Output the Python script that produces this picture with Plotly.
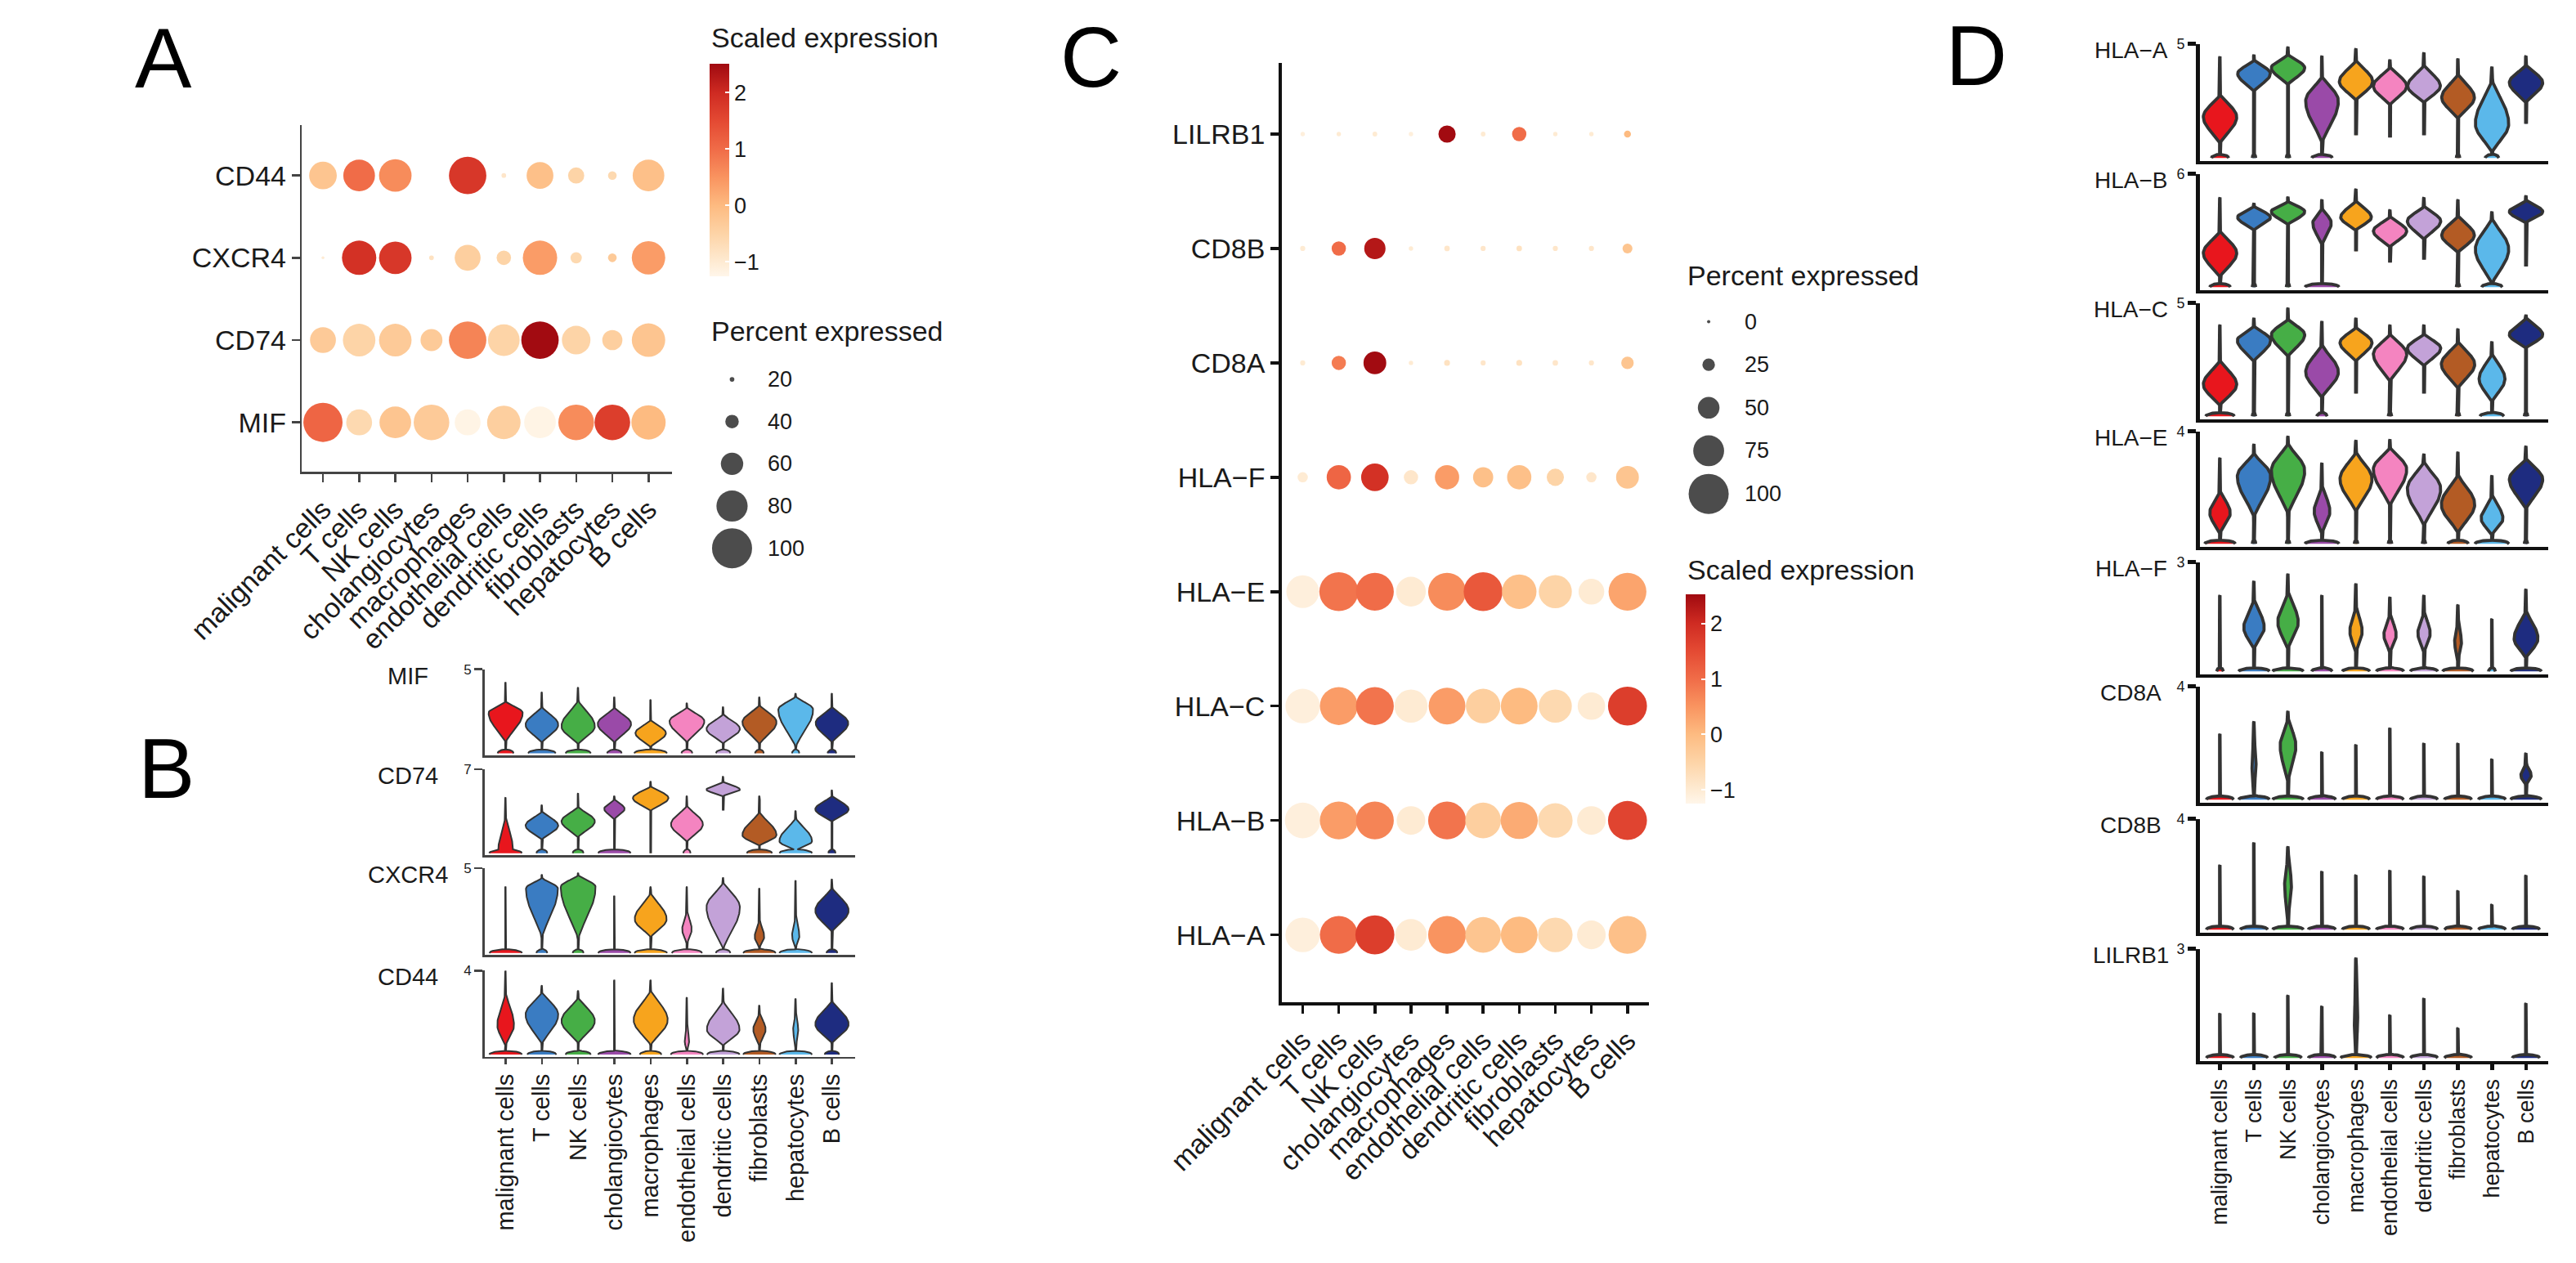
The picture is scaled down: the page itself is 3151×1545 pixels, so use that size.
import numpy as np
import plotly.graph_objects as go

W, H = 3151, 1545
FONT = "Liberation Sans, Arial, Helvetica, sans-serif"
TXT = "#1a1a1a"

# ---------------- data ----------------
CELLS = ["malignant cells", "T cells", "NK cells", "cholangiocytes", "macrophages",
         "endothelial cells", "dendritic cells", "fibroblasts", "hepatocytes", "B cells"]
CELL_COLORS = ["#E8161D", "#3A7CC2", "#46AE46", "#9A4AA8", "#F7A41D",
               "#F484C0", "#C3A2D8", "#B35B24", "#5BB8EA", "#1E2C80"]

# Panel A (dot plot) rows top -> bottom
A_GENES = ["CD44", "CXCR4", "CD74", "MIF"]
A_PCT_CD44 = [72, 81, 83, 10, 94, 20, 70, 46, 29, 81]
A_PCT_CXCR4 = [16, 87, 83, 20, 68, 42, 87, 35, 29, 85]
A_PCT_CD74 = [68, 83, 83, 59, 94, 81, 94, 74, 55, 85]
A_PCT_MIF = [98, 68, 81, 90, 68, 85, 81, 90, 90, 87]
A_EXP_CD44 = [-0.2, 1.0, 0.6, -1.0, 1.8, -0.9, -0.1, -0.5, -0.6, -0.1]
A_EXP_CXCR4 = [-1.0, 1.9, 1.8, -0.8, -0.4, -0.5, 0.4, -0.6, -0.3, 0.4]
A_EXP_CD74 = [-0.3, -0.5, -0.3, -0.3, 0.7, -0.5, 2.5, -0.5, -0.4, -0.2]
A_EXP_MIF = [1.1, -0.6, -0.2, -0.3, -1.2, -0.4, -1.2, 0.6, 1.7, 0.0]
A_PCT_BREAKS = [20, 40, 60, 80, 100]

# Panel C (dot plot) rows top -> bottom
C_GENES = ["LILRB1", "CD8B", "CD8A", "HLA−F", "HLA−E", "HLA−C", "HLA−B", "HLA−A"]
C_PCT_LILRB1 = [3, 3, 4, 3, 38, 4, 30, 3, 3, 10]
C_PCT_CD8B = [5, 30, 49, 3, 6, 5, 6, 5, 5, 18]
C_PCT_CD8A = [5, 30, 53, 3, 7, 5, 7, 6, 5, 25]
C_PCT_HLAF = [19, 57, 66, 30, 57, 46, 57, 38, 19, 53]
C_PCT_HLAE = [80, 97, 94, 72, 94, 97, 85, 81, 61, 94]
C_PCT_HLAC = [85, 94, 94, 81, 91, 85, 91, 81, 66, 97]
C_PCT_HLAB = [88, 94, 94, 69, 94, 88, 92, 85, 69, 97]
C_PCT_HLAA = [85, 94, 97, 77, 94, 88, 91, 85, 69, 94]
C_EXP_LILRB1 = [-1.1, -1.0, -1.0, -1.1, 2.5, -1.0, 1.0, -1.0, -1.0, 0.0]
C_EXP_CD8B = [-1.0, 1.0, 2.3, -1.0, -0.9, -0.9, -0.8, -0.9, -0.9, -0.2]
C_EXP_CD8A = [-1.0, 0.8, 2.5, -1.0, -0.8, -0.9, -0.8, -0.9, -0.9, -0.2]
C_EXP_HLAF = [-1.0, 1.1, 1.9, -0.9, 0.4, -0.1, -0.1, -0.5, -0.9, -0.2]
C_EXP_HLAE = [-1.1, 0.9, 1.0, -1.0, 0.6, 1.3, -0.1, -0.5, -1.0, 0.3]
C_EXP_HLAC = [-1.1, 0.4, 0.9, -1.0, 0.4, -0.4, 0.0, -0.6, -1.0, 1.7]
C_EXP_HLAB = [-1.1, 0.4, 0.7, -1.0, 0.9, -0.4, 0.2, -0.6, -1.0, 1.6]
C_EXP_HLAA = [-1.1, 1.0, 1.7, -1.0, 0.5, -0.2, 0.0, -0.6, -1.0, -0.1]
C_PCT_BREAKS = [0, 25, 50, 75, 100]

EXP_TICKS = [-1, 0, 1, 2]
EXP_TICK_TEXT = ["−1", "0", "1", "2"]
EXP_MIN, EXP_MAX = -1.25, 2.52

# Violin descriptors per cell type: [bottom, bulb_low, widest, half_width, bulb_high, top, zero_blob]
B_GENES = ["MIF", "CD74", "CXCR4", "CD44"]
B_YMAX = [5, 7, 5, 4]
VLN_B_MIF = [
    [0, 0.6, 2.4, 0.47, 3.1, 4.23, 0.22], [0, 0.6, 1.7, 0.45, 2.8, 3.65, 0.38],
    [0, 0.5, 1.6, 0.46, 3.2, 3.93, 0.35], [0, 0.6, 1.75, 0.46, 2.75, 3.35, 0.2],
    [0, 0.35, 1.2, 0.42, 2.0, 3.2, 0.45], [0, 0.6, 1.9, 0.48, 2.75, 3.0, 0.15],
    [0, 0.55, 1.45, 0.46, 2.35, 2.77, 0.2], [0, 0.5, 1.85, 0.47, 2.9, 3.35, 0.12],
    [0, 0.3, 2.6, 0.48, 3.4, 3.57, 0.1], [0, 0.6, 1.8, 0.45, 2.8, 3.57, 0.12]]
VLN_B_CD74 = [
    [0, 0.0, 0.3, 0.2, 3.2, 4.65, 0.45], [0, 1.1, 2.3, 0.45, 3.5, 4.03, 0.15],
    [0, 1.3, 2.65, 0.46, 3.9, 5.0, 0.15], [0, 2.8, 3.7, 0.28, 4.5, 4.78, 0.45],
    [0, 3.5, 4.6, 0.49, 5.6, 6.0, 0.0], [0, 0.9, 2.4, 0.44, 4.0, 4.78, 0.1],
    [3.55, 4.75, 5.3, 0.46, 5.95, 6.4, 0.0], [0, 0.6, 1.5, 0.47, 3.5, 4.78, 0.35],
    [0, 0.2, 1.0, 0.45, 3.0, 3.54, 0.45], [0, 2.6, 3.66, 0.46, 4.8, 5.27, 0.1]]
VLN_B_CXCR4 = [
    [0, 0, 0, 0, 0, 3.92, 0.45], [0, 0.8, 3.8, 0.44, 4.45, 4.64, 0.15],
    [0, 0.7, 3.9, 0.48, 4.6, 4.73, 0.15], [0, 0, 0, 0, 0, 3.38, 0.45],
    [0, 0.9, 2.0, 0.44, 3.6, 3.92, 0.45], [0, 0.5, 1.4, 0.13, 2.5, 3.92, 0.42],
    [0, 0.15, 2.7, 0.46, 4.2, 4.46, 0.2], [0, 0.3, 0.95, 0.13, 2.0, 3.83, 0.45],
    [0, 0.3, 1.0, 0.1, 2.2, 4.28, 0.45], [0, 1.2, 2.5, 0.46, 3.9, 4.37, 0.15]]
VLN_B_CD44 = [
    [0, 0.4, 1.4, 0.23, 3.0, 4.0, 0.45], [0, 0.45, 1.9, 0.45, 3.0, 3.3, 0.4],
    [0, 0.5, 1.6, 0.46, 2.75, 3.05, 0.35], [0, 0, 0, 0, 0, 3.56, 0.45],
    [0, 0.4, 1.65, 0.47, 3.1, 3.56, 0.3], [0, 0.2, 0.6, 0.06, 1.5, 2.73, 0.45],
    [0, 0.4, 1.2, 0.45, 2.6, 3.17, 0.45], [0, 0.4, 1.2, 0.17, 2.0, 2.35, 0.45],
    [0, 0.3, 1.2, 0.07, 2.0, 2.67, 0.45], [0, 0.5, 1.45, 0.46, 2.6, 3.43, 0.2]]

D_GENES = ["HLA−A", "HLA−B", "HLA−C", "HLA−E", "HLA−F", "CD8A", "CD8B", "LILRB1"]
D_YMAX = [5, 6, 5, 4, 3, 4, 4, 3]
VLN_D_HLAA = [
    [0, 0.6, 1.8, 0.49, 2.8, 4.45, 0.25], [0, 2.9, 3.7, 0.48, 4.3, 4.53, 0.05],
    [0, 3.2, 3.95, 0.49, 4.55, 4.88, 0.05], [0, 0.6, 2.5, 0.48, 3.6, 4.48, 0.3],
    [1.0, 2.5, 3.35, 0.49, 4.3, 4.8, 0], [0.9, 2.3, 3.15, 0.49, 4.0, 4.31, 0],
    [1.0, 2.4, 3.15, 0.48, 4.1, 4.62, 0], [0, 1.7, 2.65, 0.48, 3.7, 4.36, 0.05],
    [0, 0.2, 1.5, 0.49, 3.5, 4.0, 0.2], [1.5, 2.4, 3.3, 0.49, 4.1, 4.48, 0]]
VLN_D_HLAB = [
    [0, 0.5, 1.8, 0.49, 3.0, 4.75, 0.3], [0, 3.0, 3.7, 0.48, 4.3, 4.45, 0.05],
    [0, 3.3, 4.0, 0.49, 4.55, 4.79, 0.05], [0, 2.2, 3.4, 0.27, 4.2, 4.64, 0.5],
    [1.9, 3.0, 3.7, 0.45, 4.6, 5.2, 0], [1.3, 2.1, 2.97, 0.49, 3.75, 4.1, 0],
    [1.45, 2.5, 3.5, 0.49, 4.3, 4.75, 0], [0, 1.8, 2.75, 0.48, 3.8, 4.64, 0.05],
    [0, 0.1, 2.0, 0.49, 3.7, 4.0, 0.3], [1.1, 3.4, 4.0, 0.49, 4.6, 4.85, 0]]
VLN_D_HLAC = [
    [0, 0.45, 1.4, 0.49, 2.5, 4.04, 0.42], [0, 2.4, 3.35, 0.49, 4.0, 4.34, 0.05],
    [0, 2.6, 3.6, 0.49, 4.3, 4.79, 0.05], [0, 0.8, 1.95, 0.48, 3.2, 4.2, 0.15],
    [1.0, 2.4, 3.25, 0.47, 3.95, 4.34, 0], [0, 1.5, 2.75, 0.49, 3.65, 4.04, 0.05],
    [1.0, 2.2, 3.0, 0.49, 3.65, 4.04, 0], [0, 1.2, 2.3, 0.49, 3.3, 3.87, 0.05],
    [0, 0.6, 1.65, 0.38, 2.8, 3.3, 0.35], [0, 3.0, 3.6, 0.49, 4.35, 4.48, 0.05]]
VLN_D_HLAE = [
    [0, 0.35, 1.1, 0.3, 1.9, 3.06, 0.45], [0, 0.9, 2.4, 0.49, 3.25, 3.55, 0.05],
    [0, 1.0, 2.6, 0.49, 3.6, 3.83, 0.05], [0, 0.35, 1.15, 0.23, 2.1, 2.88, 0.5],
    [0, 1.1, 2.3, 0.47, 3.3, 3.69, 0.05], [0, 1.3, 2.65, 0.49, 3.45, 3.72, 0.05],
    [0, 0.6, 1.95, 0.49, 2.95, 3.2, 0.05], [0, 0.35, 1.4, 0.49, 2.5, 3.27, 0.3],
    [0, 0.3, 0.9, 0.32, 1.75, 2.43, 0.5], [0, 1.2, 2.3, 0.49, 3.05, 3.48, 0.05]]
VLN_D_HLAF = [
    [0, 0, 0, 0, 0, 2.09, 0.1], [0, 0.6, 1.2, 0.3, 2.0, 2.48, 0.45],
    [0, 0.6, 1.35, 0.3, 2.2, 2.68, 0.45], [0, 0, 0, 0, 0, 2.09, 0.3],
    [0, 0.5, 1.1, 0.18, 1.8, 2.41, 0.4], [0, 0.5, 1.0, 0.18, 1.6, 2.04, 0.4],
    [0, 0.5, 1.05, 0.18, 1.65, 2.09, 0.4], [0, 0.3, 0.8, 0.1, 1.4, 1.83, 0.45],
    [0, 0, 0, 0, 0, 1.44, 0.1], [0, 0.35, 0.9, 0.35, 1.7, 2.26, 0.45]]
VLN_D_CD8A = [
    [0, 0, 0, 0, 0, 2.32, 0.4], [0, 0.4, 1.2, 0.06, 2.3, 2.76, 0.45],
    [0, 0.6, 1.9, 0.23, 2.9, 3.13, 0.45], [0, 0, 0, 0, 0, 1.68, 0.4],
    [0, 0, 0, 0, 0, 1.94, 0.4], [0, 0, 0, 0, 0, 2.53, 0.4],
    [0, 0, 0, 0, 0, 1.99, 0.4], [0, 0, 0, 0, 0, 1.99, 0.4],
    [0, 0, 0, 0, 0, 1.43, 0.4], [0, 0.5, 0.85, 0.15, 1.3, 1.64, 0.45]]
VLN_D_CD8B = [
    [0, 0, 0, 0, 0, 2.33, 0.4], [0, 0, 0, 0, 0, 3.14, 0.4],
    [0, 0.35, 1.6, 0.1, 2.7, 3.0, 0.45], [0, 0, 0, 0, 0, 2.1, 0.4],
    [0, 0, 0, 0, 0, 1.97, 0.4], [0, 0, 0, 0, 0, 2.14, 0.4],
    [0, 0, 0, 0, 0, 1.93, 0.4], [0, 0, 0, 0, 0, 1.4, 0.4],
    [0, 0, 0, 0, 0, 0.9, 0.4], [0, 0, 0, 0, 0, 1.96, 0.4]]
VLN_D_LILRB1 = [
    [0, 0, 0, 0, 0, 1.22, 0.4], [0, 0, 0, 0, 0, 1.23, 0.4],
    [0, 0, 0, 0, 0, 1.72, 0.4], [0, 0, 0, 0, 0, 1.42, 0.4],
    [0, 0.3, 1.0, 0.05, 2.0, 2.75, 0.45], [0, 0, 0, 0, 0, 1.18, 0.4],
    [0, 0, 0, 0, 0, 1.64, 0.4], [0, 0, 0, 0, 0, 0.82, 0.4],
    [0, 0, 0, 0, 0, 0.0, 0.4], [0, 0, 0, 0, 0, 1.5, 0.4]]

# ---------------- helpers ----------------
COLORSCALE = [
    [(-1.25 - EXP_MIN) / (EXP_MAX - EXP_MIN), "#FFF6EA"],
    [(-1.0 - EXP_MIN) / (EXP_MAX - EXP_MIN), "#FEEBD3"],
    [(-0.5 - EXP_MIN) / (EXP_MAX - EXP_MIN), "#FDD4A7"],
    [(0.0 - EXP_MIN) / (EXP_MAX - EXP_MIN), "#FDBB81"],
    [(0.5 - EXP_MIN) / (EXP_MAX - EXP_MIN), "#F99460"],
    [(1.0 - EXP_MIN) / (EXP_MAX - EXP_MIN), "#F06C48"],
    [(1.5 - EXP_MIN) / (EXP_MAX - EXP_MIN), "#E44A33"],
    [(2.0 - EXP_MIN) / (EXP_MAX - EXP_MIN), "#CF2B22"],
    [1.0, "#A00A10"],
]


def px_x(p):
    return p / W


def px_y(p):
    return 1 - p / H


fig = go.Figure()
layout_axes = {}
annotations = []
counter = [0]


def new_axes(xdom, ydom, xr, yr, xkw=None, ykw=None):
    counter[0] += 1
    n = counter[0]
    s = "" if n == 1 else str(n)
    xa = dict(domain=[px_x(xdom[0]), px_x(xdom[1])], range=xr, anchor="y" + s,
              showgrid=False, zeroline=False, fixedrange=True)
    ya = dict(domain=[px_y(ydom[1]), px_y(ydom[0])], range=yr, anchor="x" + s,
              showgrid=False, zeroline=False, fixedrange=True)
    if xkw:
        xa.update(xkw)
    if ykw:
        ya.update(ykw)
    layout_axes["xaxis" + s] = xa
    layout_axes["yaxis" + s] = ya
    return "x" + s, "y" + s


def text(x, y, s, size, xanchor="left", yanchor="middle", xref="paper", yref="paper", color=TXT):
    annotations.append(dict(x=x, y=y, xref=xref, yref=yref, text=s, showarrow=False,
                            xanchor=xanchor, yanchor=yanchor,
                            font=dict(family=FONT, size=size, color=color)))


def size_A(p):
    return max(0.0, 3 + 46 * (p - 15) / 85)


def size_C(p):
    return 4 + 45 * p / 100


def dot_panel(genes, pct_rows, exp_rows, xdom, ydom, col0, col9, row_top, row_bot,
              size_fn, line_color, line_w, cbar):
    ng = len(genes)
    ux = (len(CELLS) - 1) / (col9 - col0)
    xr = [(xdom[0] - col0) * ux, (xdom[1] - col0) * ux]
    uy = (ng - 1) / (row_bot - row_top)
    yr = [-(ydom[1] - row_bot) * uy, (ng - 1) + (row_top - ydom[0]) * uy]
    axis_common = dict(showline=True, linecolor=line_color, linewidth=line_w, ticks="outside",
                       ticklen=10, tickwidth=line_w, tickcolor=line_color,
                       tickfont=dict(family=FONT, size=34, color=TXT))
    xkw = dict(axis_common, tickvals=list(range(len(CELLS))), ticktext=CELLS, tickangle=-45)
    ykw = dict(axis_common, tickvals=[ng - 1 - i for i in range(ng)], ticktext=genes)
    xa, ya = new_axes(xdom, ydom, xr, yr, xkw, ykw)
    xs, ys, ss, cs = [], [], [], []
    for gi in range(ng):
        for ci in range(len(CELLS)):
            xs.append(ci)
            ys.append(ng - 1 - gi)
            ss.append(size_fn(pct_rows[gi][ci]))
            cs.append(exp_rows[gi][ci])
    fig.add_trace(go.Scatter(
        x=xs, y=ys, xaxis=xa, yaxis=ya, mode="markers", hoverinfo="skip",
        marker=dict(size=ss, color=cs, colorscale=COLORSCALE, cmin=EXP_MIN, cmax=EXP_MAX,
                    line=dict(width=0), opacity=1, showscale=True, colorbar=cbar)))


def colorbar_cfg(x_px, top_px, bot_px):
    return dict(x=px_x(x_px), xanchor="left", y=px_y(top_px), yanchor="top",
                len=(bot_px - top_px) / H, lenmode="fraction", thickness=24,
                thicknessmode="pixels", outlinewidth=0, xpad=0, ypad=0,
                tickvals=EXP_TICKS, ticktext=EXP_TICK_TEXT, ticks="inside",
                tickcolor="white", ticklen=5, tickwidth=2,
                tickfont=dict(family=FONT, size=27, color=TXT))


def size_legend(breaks, size_fn, dot_cx, label_x, top_px, bot_px):
    nb = len(breaks)
    step = (bot_px - top_px) / (nb - 1)
    xa, ya = new_axes([dot_cx - 30, dot_cx + 30], [top_px - step / 2, bot_px + step / 2],
                      [-1, 1], [nb - 0.5, -0.5], dict(visible=False), dict(visible=False))
    fig.add_trace(go.Scatter(
        x=[0] * nb, y=list(range(nb)), xaxis=xa, yaxis=ya, mode="markers", hoverinfo="skip",
        marker=dict(size=[size_fn(b) for b in breaks], color="black", line=dict(width=0))))
    for i, b in enumerate(breaks):
        text(px_x(label_x), i, str(b), 27, yref=ya)


NECK = 0.012


def violin_xy(center, d, ymax, blob_frac, n=90):
    bot, lo, mid, w, hi, top, base = d
    if top <= bot:
        return None, None
    hb = blob_frac * ymax
    ys = np.linspace(bot, top, n)
    extra = [v for v in (lo, mid, hi, hb) if bot < v < top]
    ys = np.unique(np.concatenate([ys, extra]))
    ws = []
    for y in ys:
        v = NECK
        if base > 0 and y < hb:
            v = max(v, base * np.sqrt(max(0.0, 1 - (y / hb) ** 2)))
        if w > 0:
            if lo <= y <= mid and mid > lo:
                t = (y - lo) / (mid - lo)
                v = max(v, w * np.sin(np.pi * t / 2) ** 1.5)
            elif mid < y <= hi and hi > mid:
                t = (hi - y) / (hi - mid)
                v = max(v, w * np.sin(np.pi * t / 2) ** 1.5)
        ws.append(v)
    ws = np.array(ws)
    ws[-1] = 0.0
    xs = np.concatenate([center + ws, (center - ws)[::-1]])
    yy = np.concatenate([ys, ys[::-1]])
    return xs, yy


def violin_stack(genes, ymaxes, descs, xdom, col0, col9, panels, label_cx, outline_w,
                 axis_w, axis_color, tick_size, gene_size, xlab_size, blob_frac):
    ux = (len(CELLS) - 1) / (col9 - col0)
    xr = [(xdom[0] - col0) * ux, (xdom[1] - col0) * ux]
    for k, gene in enumerate(genes):
        top_px, bot_px = panels[k]
        ymax = ymaxes[k]
        last = k == len(genes) - 1
        xkw = dict(showline=True, linecolor=axis_color, linewidth=axis_w,
                   tickvals=list(range(len(CELLS))), ticktext=CELLS,
                   showticklabels=last, ticks="outside" if last else "",
                   ticklen=7, tickwidth=axis_w, tickcolor=axis_color, tickangle=-90,
                   tickfont=dict(family=FONT, size=xlab_size, color=TXT))
        ykw = dict(showline=True, linecolor=axis_color, linewidth=axis_w,
                   tickvals=[ymax], ticktext=[str(ymax)], ticks="outside", ticklen=10,
                   tickwidth=axis_w, tickcolor=axis_color,
                   tickfont=dict(family=FONT, size=tick_size, color=TXT))
        xa, ya = new_axes(xdom, (top_px, bot_px), xr, [-0.025 * ymax, ymax], xkw, ykw)
        for ci in range(len(CELLS)):
            xs, ys = violin_xy(ci, descs[k][ci], ymax, blob_frac)
            if xs is None:
                continue
            fig.add_trace(go.Scatter(
                x=xs, y=ys, xaxis=xa, yaxis=ya, mode="lines", fill="toself",
                fillcolor=CELL_COLORS[ci], hoverinfo="skip",
                line=dict(color="#333333", width=outline_w)))
        text(px_x(label_cx), px_y(top_px + 8), gene, gene_size, xanchor="center")


# ---------------- Panel A ----------------
dot_panel(A_GENES, [A_PCT_CD44, A_PCT_CXCR4, A_PCT_CD74, A_PCT_MIF],
          [A_EXP_CD44, A_EXP_CXCR4, A_EXP_CD74, A_EXP_MIF],
          xdom=(238, 712), ydom=(144, 571), col0=265, col9=682, row_top=206, row_bot=510,
          size_fn=size_A, line_color="#444444", line_w=2.5,
          cbar=colorbar_cfg(760, 68, 330))
text(px_x(760), px_y(36), "Scaled expression", 34)
text(px_x(760), px_y(398), "Percent expressed", 34)
size_legend(A_PCT_BREAKS, size_A, 789, 832, 457, 665)

# ---------------- Panel C ----------------
dot_panel(C_GENES, [C_PCT_LILRB1, C_PCT_CD8B, C_PCT_CD8A, C_PCT_HLAF, C_PCT_HLAE,
                    C_PCT_HLAC, C_PCT_HLAB, C_PCT_HLAA],
          [C_EXP_LILRB1, C_EXP_CD8B, C_EXP_CD8A, C_EXP_HLAF, C_EXP_HLAE,
           C_EXP_HLAC, C_EXP_HLAB, C_EXP_HLAA],
          xdom=(1493, 1964), ydom=(67, 1224), col0=1520, col9=1936, row_top=155, row_bot=1141,
          size_fn=size_C, line_color="#111111", line_w=3.5,
          cbar=colorbar_cfg(2011, 722, 980))
text(px_x(2011), px_y(329), "Percent expressed", 34)
text(px_x(2011), px_y(691), "Scaled expression", 34)
size_legend(C_PCT_BREAKS, size_C, 2040, 2084, 386, 598)

# ---------------- Panel B ----------------
violin_stack(B_GENES, B_YMAX, [VLN_B_MIF, VLN_B_CD74, VLN_B_CXCR4, VLN_B_CD44],
             xdom=(472, 947), col0=499, col9=917,
             panels=[(814, 920), (937, 1043), (1059, 1166), (1185, 1291)],
             label_cx=374, outline_w=2.0, axis_w=2.5, axis_color="#444444",
             tick_size=17, gene_size=29, xlab_size=29, blob_frac=0.045)

# ---------------- Panel D ----------------
violin_stack(D_GENES, D_YMAX, [VLN_D_HLAA, VLN_D_HLAB, VLN_D_HLAC, VLN_D_HLAE,
                               VLN_D_HLAF, VLN_D_CD8A, VLN_D_CD8B, VLN_D_LILRB1],
             xdom=(2669, 3115), col0=2695, col9=3087,
             panels=[(44, 188), (204, 347), (363, 506), (521, 663), (682, 820),
                     (835, 978), (998, 1138), (1158, 1296)],
             label_cx=2581, outline_w=3.8, axis_w=4.5, axis_color="#111111",
             tick_size=18, gene_size=28, xlab_size=27, blob_frac=0.032)

# ---------------- panel letters ----------------
text(px_x(22), px_y(61), "A", 104, color="black")
text(px_x(26), px_y(936), "B", 104, color="black")
text(px_x(1207), px_y(60), "C", 104, color="black")
text(px_x(2342), px_y(58), "D", 104, color="black")

fig.update_layout(width=W, height=H, margin=dict(l=0, r=0, t=0, b=0),
                  paper_bgcolor="white", plot_bgcolor="rgba(0,0,0,0)", showlegend=False,
                  font=dict(family=FONT, color=TXT), annotations=annotations, **layout_axes)

fig.write_html("out.html", config={"displayModeBar": False, "staticPlot": True},
               post_script="document.body.style.margin='0';document.body.style.overflow='hidden';")
